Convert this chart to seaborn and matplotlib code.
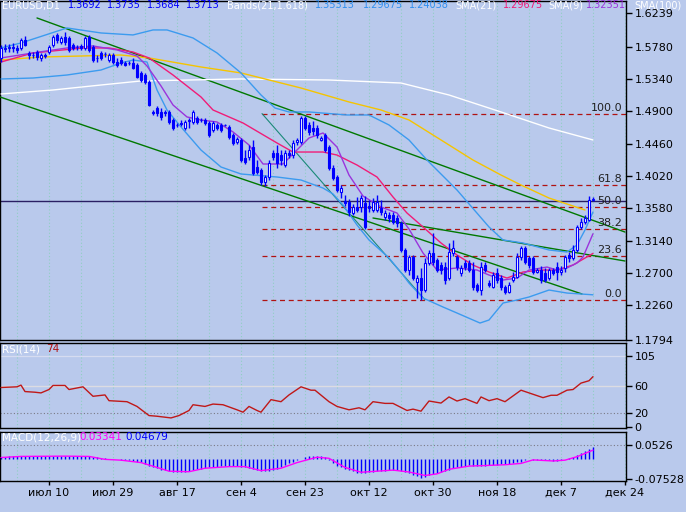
import numpy as np
import matplotlib
matplotlib.use("Agg")
import matplotlib.pyplot as plt
import seaborn as sns

# ---- EURUSD D1 candles (bar 0 = late June) ----
opens = [
    1.5627, 1.5749, 1.5763, 1.5776, 1.5763, 1.5763, 1.5872, 1.5695, 1.5667, 1.5708,
    1.5627, 1.5667, 1.5708, 1.5804, 1.5940, 1.5844, 1.5912, 1.5899, 1.5804, 1.5776,
    1.5790, 1.5763, 1.5912, 1.5776, 1.5627, 1.5695, 1.5681, 1.5599, 1.5667, 1.5572,
    1.5599, 1.5559, 1.5559, 1.5559, 1.5531, 1.5422, 1.5395, 1.5300, 1.4892, 1.4946,
    1.4892, 1.4892, 1.4892, 1.4783, 1.4715, 1.4742, 1.4674, 1.4783, 1.4756, 1.4810,
    1.4783, 1.4783, 1.4742, 1.4647, 1.4715, 1.4715, 1.4715, 1.4688, 1.4579, 1.4483,
    1.4511, 1.4266, 1.4279, 1.4415, 1.4143, 1.4102, 1.3939, 1.4007, 1.4334, 1.4334,
    1.4306, 1.4170, 1.4334, 1.4306, 1.4483, 1.4483, 1.4810, 1.4715, 1.4674, 1.4674,
    1.4511, 1.4579, 1.4415, 1.4130, 1.4007, 1.3803, 1.3680, 1.3667, 1.3517, 1.3599,
    1.3599, 1.3653, 1.3612, 1.3558, 1.3558, 1.3585, 1.3463, 1.3490, 1.3490, 1.3449,
    1.3381, 1.3013, 1.2741, 1.2918, 1.2578, 1.2632, 1.2469, 1.2837, 1.2973, 1.2877,
    1.2809, 1.2782, 1.2632, 1.2973, 1.2918, 1.2700, 1.2837, 1.2837, 1.2741, 1.2537,
    1.2469, 1.2809, 1.2564, 1.2510, 1.2700, 1.2632, 1.2510, 1.2442, 1.2605, 1.2646,
    1.2918, 1.3041, 1.2905, 1.2905, 1.2714, 1.2741, 1.2700, 1.2632, 1.2741, 1.2782,
    1.2714, 1.2769, 1.2945, 1.2905, 1.3013, 1.3327, 1.3395, 1.3422, 1.3692]
highs = [
    1.5804, 1.5817, 1.5817, 1.5831, 1.5804, 1.5899, 1.5926, 1.5722, 1.5708, 1.5735,
    1.5695, 1.5695, 1.5804, 1.5940, 1.5967, 1.5926, 1.5980, 1.5926, 1.5831, 1.5804,
    1.5817, 1.5926, 1.5940, 1.5804, 1.5667, 1.5722, 1.5708, 1.5695, 1.5695, 1.5627,
    1.5640, 1.5586, 1.5586, 1.5627, 1.5559, 1.5450, 1.5422, 1.5327, 1.4919, 1.4973,
    1.4946, 1.4919, 1.4919, 1.4810, 1.4742, 1.4783, 1.4783, 1.4810, 1.4919, 1.4837,
    1.4810, 1.4810, 1.4769, 1.4769, 1.4742, 1.4742, 1.4728, 1.4715, 1.4606, 1.4551,
    1.4538, 1.4374, 1.4443, 1.4511, 1.4238, 1.4130, 1.4034, 1.4238, 1.4374, 1.4443,
    1.4374, 1.4374, 1.4374, 1.4511, 1.4538, 1.4837, 1.4837, 1.4756, 1.4769, 1.4715,
    1.4565, 1.4606, 1.4443, 1.4170, 1.4034, 1.3898, 1.3762, 1.3708, 1.3640, 1.3735,
    1.3762, 1.3748, 1.3694, 1.3721, 1.3762, 1.3694, 1.3558, 1.3531, 1.3531, 1.3490,
    1.3408, 1.3041, 1.2945, 1.2945, 1.2673, 1.2769, 1.2905, 1.3013, 1.3245, 1.2905,
    1.2850, 1.2850, 1.3109, 1.3150, 1.2945, 1.2809, 1.2877, 1.2877, 1.2850, 1.2564,
    1.2850, 1.2850, 1.2605, 1.2714, 1.2769, 1.2673, 1.2537, 1.2578, 1.2714, 1.2973,
    1.3068, 1.3068, 1.2932, 1.2932, 1.2769, 1.2796, 1.2769, 1.2769, 1.2769, 1.2850,
    1.2796, 1.2945, 1.2986, 1.3082, 1.3354, 1.3449, 1.3490, 1.3748, 1.3735]
lows = [
    1.5572, 1.5708, 1.5708, 1.5708, 1.5695, 1.5735, 1.5790, 1.5613, 1.5627, 1.5599,
    1.5586, 1.5627, 1.5681, 1.5776, 1.5831, 1.5817, 1.5804, 1.5708, 1.5735, 1.5735,
    1.5735, 1.5735, 1.5708, 1.5572, 1.5572, 1.5599, 1.5640, 1.5572, 1.5545, 1.5504,
    1.5531, 1.5518, 1.5531, 1.5477, 1.5354, 1.5300, 1.5273, 1.4973, 1.4851, 1.4837,
    1.4783, 1.4837, 1.4728, 1.4647, 1.4688, 1.4701, 1.4647, 1.4674, 1.4728, 1.4728,
    1.4756, 1.4715, 1.4551, 1.4619, 1.4647, 1.4619, 1.4701, 1.4524, 1.4443, 1.4456,
    1.4211, 1.4184, 1.4238, 1.4034, 1.4048, 1.3898, 1.3885, 1.3966, 1.4238, 1.4130,
    1.4170, 1.4143, 1.4266, 1.4266, 1.4443, 1.4456, 1.4647, 1.4579, 1.4579, 1.4538,
    1.4497, 1.4347, 1.4102, 1.3966, 1.3803, 1.3721, 1.3612, 1.3476, 1.3490, 1.3531,
    1.3531, 1.3299, 1.3531, 1.3531, 1.3531, 1.3490, 1.3422, 1.3395, 1.3367, 1.3327,
    1.2986, 1.2714, 1.2673, 1.2605, 1.2360, 1.2333, 1.2442, 1.2809, 1.2809, 1.2714,
    1.2687, 1.2551, 1.2605, 1.2932, 1.2741, 1.2660, 1.2741, 1.2714, 1.2469, 1.2442,
    1.2401, 1.2714, 1.2510, 1.2496, 1.2564, 1.2469, 1.2415, 1.2428, 1.2578, 1.2632,
    1.2877, 1.2823, 1.2769, 1.2687, 1.2700, 1.2564, 1.2578, 1.2605, 1.2673, 1.2605,
    1.2673, 1.2714, 1.2850, 1.2877, 1.2986, 1.3299, 1.3367, 1.3408, 1.3684]
closes = [
    1.5763, 1.5763, 1.5776, 1.5763, 1.5735, 1.5872, 1.5804, 1.5667, 1.5665, 1.5640,
    1.5667, 1.5654, 1.5776, 1.5912, 1.5872, 1.5899, 1.5844, 1.5735, 1.5763, 1.5772,
    1.5763, 1.5899, 1.5735, 1.5599, 1.5622, 1.5627, 1.5677, 1.5667, 1.5572, 1.5531,
    1.5559, 1.5531, 1.5555, 1.5491, 1.5368, 1.5327, 1.5300, 1.4987, 1.4878, 1.4878,
    1.4824, 1.4878, 1.4756, 1.4674, 1.4711, 1.4728, 1.4756, 1.4769, 1.4892, 1.4756,
    1.4779, 1.4742, 1.4579, 1.4742, 1.4674, 1.4647, 1.4712, 1.4551, 1.4470, 1.4524,
    1.4238, 1.4211, 1.4374, 1.4061, 1.4075, 1.3939, 1.4007, 1.4198, 1.4279, 1.4198,
    1.4238, 1.4334, 1.4306, 1.4470, 1.4511, 1.4810, 1.4674, 1.4619, 1.4633, 1.4579,
    1.4538, 1.4374, 1.4130, 1.3993, 1.3830, 1.3857, 1.3653, 1.3531, 1.3599, 1.3558,
    1.3721, 1.3327, 1.3585, 1.3667, 1.3667, 1.3531, 1.3517, 1.3449, 1.3395, 1.3381,
    1.3013, 1.2741, 1.2918, 1.2632, 1.2632, 1.2469, 1.2837, 1.2973, 1.2850, 1.2741,
    1.2741, 1.2605, 1.2986, 1.3041, 1.2782, 1.2769, 1.2782, 1.2741, 1.2510, 1.2469,
    1.2782, 1.2741, 1.2537, 1.2673, 1.2605, 1.2510, 1.2442, 1.2537, 1.2646, 1.2918,
    1.3041, 1.2850, 1.2809, 1.2714, 1.2741, 1.2605, 1.2605, 1.2741, 1.2700, 1.2714,
    1.2741, 1.2918, 1.2905, 1.3013, 1.3327, 1.3395, 1.3449, 1.3694, 1.3713]

# ---- indicator lines, sampled along the chart (bar index, value) ----
band_up_idx = [0, 5, 16.5, 25, 33, 38, 41.5, 48, 54, 60, 65, 68.5, 72, 77, 86.5, 92,
               97, 102, 106.5, 114, 122, 125.5, 130.5, 137, 141.5, 144, 146, 148]
band_up = [1.5763, 1.5831, 1.6035, 1.5967, 1.5940, 1.6008, 1.6008, 1.5899, 1.5695,
           1.5423, 1.5123, 1.4946, 1.4892, 1.4892, 1.4851, 1.4851, 1.4715, 1.4511,
           1.4238, 1.3830, 1.3327, 1.3150, 1.3109, 1.3014, 1.2986, 1.3082, 1.3286, 1.3531]
band_lo_idx = [0, 8, 16.5, 25, 30, 33, 36.5, 39, 41.5, 45, 50, 55, 60, 69, 75, 80.5, 83,
               85.5, 89, 92, 97, 100.5, 102, 105.5, 110.5, 114, 119.75, 122, 125.5, 129,
               132, 137, 141.5, 148]
band_lo = [1.5341, 1.5354, 1.5395, 1.5463, 1.5559, 1.5599, 1.5572, 1.5191, 1.4919,
           1.4688, 1.4374, 1.4143, 1.4048, 1.4007, 1.3966, 1.3857, 1.3776, 1.3626,
           1.3354, 1.3150, 1.2905, 1.2673, 1.2564, 1.2360, 1.2238, 1.2156, 1.2020,
           1.2061, 1.2292, 1.2333, 1.2374, 1.2469, 1.2428, 1.2404]
sma21_idx = [0, 8, 20.5, 27, 33, 37, 43, 50, 53, 60.5, 69, 73, 80.5, 84, 89, 94, 98,
             101.5, 105.5, 110, 114, 118, 122, 126.5, 130.5, 135, 139, 143, 148]
sma21 = [1.5572, 1.5695, 1.5763, 1.5763, 1.5708, 1.5627, 1.5395, 1.5096, 1.4919,
         1.4742, 1.4470, 1.4347, 1.4347, 1.4306, 1.4170, 1.4007, 1.3735, 1.3517,
         1.3327, 1.3109, 1.2945, 1.2809, 1.2714, 1.2632, 1.2714, 1.2741, 1.2741,
         1.2809, 1.2968]
sma9_idx = [0, 8, 16.5, 23, 29, 34, 36.5, 40, 43, 46.5, 50, 54, 58, 62, 65.5, 70.5, 74,
            77, 80.5, 84, 87, 90.5, 95, 99, 102, 105.5, 109, 114, 119, 122, 125.5, 129,
            132, 136.5, 139, 141.5, 144, 145.5, 148]
sma9 = [1.5627, 1.5695, 1.5763, 1.5790, 1.5736, 1.5654, 1.5518, 1.5246, 1.4987,
        1.4824, 1.4783, 1.4756, 1.4620, 1.4443, 1.4184, 1.4184, 1.4375, 1.4538,
        1.4606, 1.4415, 1.4034, 1.3748, 1.3599, 1.3517, 1.3299, 1.2973, 1.2741,
        1.2769, 1.2741, 1.2673, 1.2605, 1.2632, 1.2741, 1.2782, 1.2741, 1.2769,
        1.2837, 1.2918, 1.3235]
sma100_idx = [0, 13, 25, 35, 60, 82, 100, 112, 125, 137, 148]
sma100 = [1.5137, 1.5191, 1.5259, 1.5314, 1.5341, 1.5327, 1.5286, 1.5123, 1.4892,
          1.4674, 1.4511]
yellow_idx = [0, 10, 30, 37, 50, 60, 75, 87, 95, 102, 110, 118, 125, 130, 137, 146]
yellow_ma = [1.5599, 1.5640, 1.5667, 1.5627, 1.5504, 1.5423, 1.5218, 1.5028, 1.4919,
             1.4783, 1.4511, 1.4238, 1.4034, 1.3898, 1.3721, 1.3558]

# trend lines (two anchors each) and fibonacci retracement
trend_a_idx, trend_a = [9, 156], [1.6171, 1.3258]
trend_b_idx, trend_b = [-0.25, 145.25], [1.5096, 1.2415]
trend_c_idx, trend_c = [93, 156], [1.3449, 1.2864]
fib_idx = [65.25, 106]
fib_high, fib_low = 1.4870, 1.2335
fib_ratios = [0.0, 23.6, 38.2, 50.0, 61.8, 100.0]
bid_price = 1.3684

# ---- RSI(14) ----
rsi_idx = [0, 4, 5, 6, 8.5, 10, 12, 13, 16, 17, 20.5, 23, 26, 27, 31.5, 34, 37, 39,
           42.5, 44.5, 47, 48, 51, 53, 55.5, 59, 60.5, 62, 64, 65, 67.5, 70, 72, 75,
           77.5, 78.5, 82, 84, 87, 89.5, 91, 93, 96, 98, 101.5, 103, 105, 107, 110,
           112, 114, 116, 119, 120, 122, 124, 126, 130, 132, 135.5, 137.5, 139, 141.5,
           143, 145, 147, 148]
rsi = [58, 59, 61.5, 52, 51, 50, 55, 61, 61, 55, 59, 45, 47, 38.5, 37, 30, 16.5, 15.5,
       13, 16.5, 24, 32.5, 30, 33.5, 32.5, 25, 21.5, 30, 24, 21.5, 40, 37, 47, 59,
       54, 54, 37, 30, 25, 28, 25, 37, 34.5, 34.5, 24, 26, 23, 38, 35, 44, 38, 41.5,
       34.5, 44, 38.5, 41.5, 37, 54, 50, 43, 46.5, 46.5, 54, 55, 64.5, 68, 74]

# ---- MACD(12,26,9): histogram per bar, signal line sampled ----
macd_hist = [
    0.009, 0.009, 0.010, 0.010, 0.011, 0.011, 0.011, 0.010, 0.010, 0.010,
    0.010, 0.010, 0.010, 0.011, 0.011, 0.011, 0.011, 0.010, 0.010, 0.010,
    0.011, 0.011, 0.010, 0.008, 0.006, 0.004, 0.003, 0.002, 0.000, -0.001,
    -0.003, -0.004, -0.005, -0.007, -0.009, -0.011, -0.018, -0.026, -0.031, -0.035,
    -0.039, -0.042, -0.046, -0.048, -0.049, -0.049, -0.048, -0.045, -0.041, -0.038,
    -0.036, -0.033, -0.031, -0.030, -0.029, -0.027, -0.026, -0.026, -0.027, -0.027,
    -0.028, -0.031, -0.034, -0.038, -0.042, -0.046, -0.045, -0.043, -0.042, -0.036,
    -0.030, -0.023, -0.016, -0.010, -0.004, 0.002, 0.006, 0.010, 0.012, 0.011,
    0.010, 0.008, -0.004, -0.016, -0.024, -0.031, -0.038, -0.042, -0.046, -0.050,
    -0.051, -0.050, -0.048, -0.047, -0.046, -0.045, -0.043, -0.042, -0.042, -0.041,
    -0.043, -0.047, -0.053, -0.058, -0.064, -0.069, -0.065, -0.059, -0.055, -0.051,
    -0.047, -0.043, -0.039, -0.035, -0.031, -0.028, -0.024, -0.022, -0.024, -0.025,
    -0.026, -0.024, -0.023, -0.022, -0.021, -0.020, -0.019, -0.017, -0.014, -0.012,
    -0.010, -0.005, -0.001, -0.002, -0.003, -0.003, -0.004, -0.005, -0.006, -0.007,
    -0.004, -0.001, 0.004, 0.009, 0.016, 0.022, 0.029, 0.037, 0.0468]
signal_idx = [0, 5, 16, 22, 26, 30, 35, 39, 42, 47, 51, 57, 61, 65, 70, 74, 79, 82, 86,
              90, 94, 98, 102, 106, 109, 112, 117, 121, 126, 130, 133, 138, 141, 144, 148]
signal = [0.006, 0.010, 0.011, 0.010, -0.001, -0.004, -0.013, -0.031, -0.045, -0.047,
          -0.034, -0.028, -0.028, -0.043, -0.034, -0.013, 0.007, 0.003, -0.031, -0.049,
          -0.045, -0.041, -0.048, -0.061, -0.055, -0.038, -0.026, -0.024, -0.021,
          -0.016, -0.003, -0.007, -0.004, 0.009, 0.0334]

date_pos = [12, 28, 44, 60, 76, 92, 108, 124, 140, 156]
date_labels = ["июл 10", "июл 29", "авг 17", "сен 4", "сен 23",
               "окт 12", "окт 30", "ноя 18", "дек 7", "дек 24"]
price_ticks = [1.6239, 1.5780, 1.5340, 1.4900, 1.4460, 1.4020,
               1.3580, 1.3140, 1.2700, 1.2260, 1.1794]

# ---- styling ----
sns.set_style("white")
plt.rcParams["font.family"] = ["DejaVu Sans"]
plt.rcParams["font.size"] = 8

W, H = 686, 512
bg = "#b9c9ec"
blue = "#0000ff"
grid_c = "#8fcfc2"

fig = plt.figure(figsize=(W / 100, H / 100), dpi=100, facecolor=bg)


def box(x0, y0, x1, y1):
    return [x0 / W, 1 - y1 / H, (x1 - x0) / W, (y1 - y0) / H]


ax = fig.add_axes(box(0, 1, 626, 340))
ax_rsi = fig.add_axes(box(0, 343, 626, 428))
ax_macd = fig.add_axes(box(0, 432, 626, 481))

for a in (ax, ax_rsi, ax_macd):
    a.set_facecolor(bg)
    a.set_xlim(-0.25, 156.25)
    for s in a.spines.values():
        s.set_color("black")
        s.set_linewidth(1)
    a.yaxis.tick_right()
    a.tick_params(axis="y", direction="out", length=4, width=1, pad=2,
                  labelsize=8, colors="black", right=True, left=False)
    a.tick_params(axis="x", bottom=False, labelbottom=False)
    for g in range(4, 157, 8):
        a.axvline(g, color=grid_c, lw=0.8, ls=(0, (1, 2)), zorder=0)

# ---- main price panel ----
ax.set_ylim(1.1789, 1.6402)
ax.set_yticks(price_ticks)
ax.set_yticklabels([f"{t:.4f}" for t in price_ticks])

# fibonacci levels
fib_prices = [fib_low + r / 100 * (fib_high - fib_low) for r in fib_ratios]
for r, p in zip(fib_ratios, fib_prices):
    ax.plot([fib_idx[0], 156.25], [p, p], color="#b01212", lw=0.9,
            ls=(0, (4, 3)), zorder=2)
    ax.text(155.3, p + 0.0012, f"{r:.1f}", ha="right", va="bottom",
            fontsize=8, color="#202020", zorder=6)
ax.plot(fib_idx, [fib_high, fib_low], color="#1a8a78", lw=0.8, zorder=2)

ax.axhline(bid_price, color="#2a1f63", lw=1, zorder=2)

for xi, yi in ((trend_a_idx, trend_a), (trend_b_idx, trend_b), (trend_c_idx, trend_c)):
    sns.lineplot(x=xi, y=yi, ax=ax, color="#007800", lw=1, zorder=3)

sns.lineplot(x=sma100_idx, y=sma100, ax=ax, color="white", lw=1, zorder=3)
sns.lineplot(x=yellow_idx, y=yellow_ma, ax=ax, color="#f5c400", lw=1, zorder=3)
sns.lineplot(x=band_up_idx, y=band_up, ax=ax, color="#3c9bef", lw=1, zorder=3)
sns.lineplot(x=band_lo_idx, y=band_lo, ax=ax, color="#3c9bef", lw=1, zorder=3)
sns.lineplot(x=sma21_idx, y=sma21, ax=ax, color="#f01c78", lw=1, zorder=3)
sns.lineplot(x=sma9_idx, y=sma9, ax=ax, color="#9a34dc", lw=1, zorder=3)

# candles
idx = np.arange(len(closes))
o = np.array(opens)
c = np.array(closes)
up = c >= o
ax.vlines(idx, lows, highs, color=blue, lw=1, zorder=4)
ax.bar(idx[up], (c - o)[up], bottom=o[up], width=0.72, color="white",
       edgecolor=blue, lw=0.8, zorder=5)
ax.bar(idx[~up], (o - c)[~up], bottom=c[~up], width=0.72, color=blue,
       edgecolor=blue, lw=0.8, zorder=5)
ax.set_xlabel("")
ax.set_ylabel("")

# ---- RSI panel ----
ax_rsi.set_ylim(-1.9, 123.8)
ax_rsi.set_yticks([105, 60, 20, 0])
ax_rsi.set_yticklabels(["105", "60", "20", "0"])
ax_rsi.axhline(105, color="#d6dcf0", lw=0.9, zorder=1)
ax_rsi.axhline(60, color="#dcdce2", lw=1, zorder=1)
ax_rsi.axhline(20, color="#7a7a86", lw=0.8, ls=(0, (1, 2)), zorder=1)
sns.lineplot(x=rsi_idx, y=rsi, ax=ax_rsi, color="#c01818", lw=1, zorder=3)
ax_rsi.set_xlabel("")
ax_rsi.set_ylabel("")

# ---- MACD panel ----
ax_macd.set_ylim(-0.0816, 0.1010)
ax_macd.set_yticks([0.0526, -0.07528])
ax_macd.set_yticklabels(["0.0526", "-0.07528"])
ax_macd.axhline(0.0526, color="#7a7a86", lw=0.8, ls=(0, (1, 2)), zorder=1)
ax_macd.vlines(idx, 0, macd_hist, color=blue, lw=1, zorder=2)
sns.lineplot(x=signal_idx, y=signal, ax=ax_macd, color="#ff00ff", lw=1, zorder=3)
ax_macd.set_xticks(date_pos)
ax_macd.set_xticklabels(date_labels)
ax_macd.tick_params(axis="x", bottom=True, labelbottom=True, direction="out",
                    length=3, width=1, pad=2, labelsize=8, colors="black")
ax_macd.set_xlabel("")
ax_macd.set_ylabel("")


# ---- header texts ----
def put(text, x, y, color, size=7):
    fig.text(x / W, 1 - y / H, text, color=color, fontsize=size,
             ha="left", va="center")


header = [("EURUSD,D1", 2, "white"), ("1.3692", 68, blue), ("1.3735", 107, blue),
          ("1.3684", 147, blue), ("1.3713", 186, blue),
          ("Bands(21,1.618)", 227, "white"), ("1.35313", 315, "#2f8ff0"),
          ("1.29675", 363, "#2f8ff0"), ("1.24038", 409, "#2f8ff0"),
          ("SMA(21)", 455, "white"), ("1.29675", 503, "#f01c78"),
          ("SMA(9)", 548, "white"), ("1.32351", 586, "#9a34dc"),
          ("SMA(100)", 634, "white")]
for t, x, col in header:
    put(t, x, 5.5, col)

put("RSI(14)", 2, 349, "white", 7.5)
put("74", 46, 349, "#b01010", 7.5)
put("MACD(12,26,9)", 2, 437, "white", 7.5)
put("0.03341", 79, 437, "#ff00ff", 7.5)
put("0.04679", 125, 437, blue, 7.5)

fig.savefig("out.png", dpi=100, facecolor=bg)
